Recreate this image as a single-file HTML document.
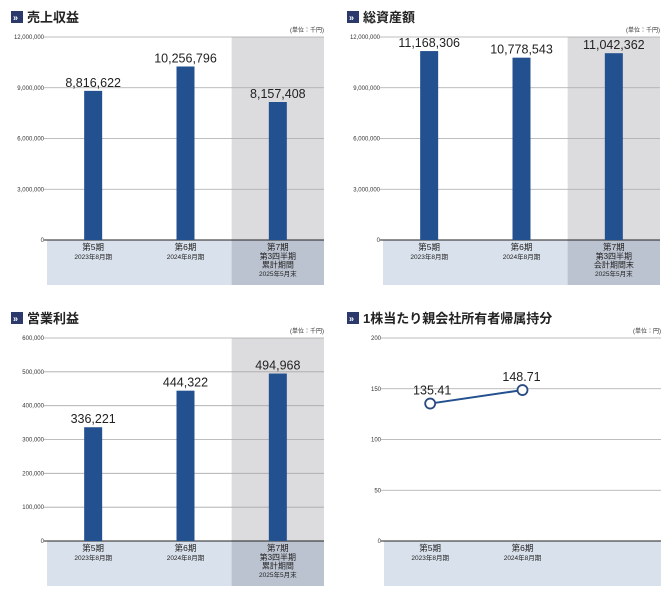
<!DOCTYPE html>
<html><head><meta charset="utf-8">
<style>
html,body{margin:0;padding:0;background:#fff;}
svg{display:block;font-family:"Liberation Sans","Noto Sans CJK JP",sans-serif;}
</style></head>
<body>
<svg id="chart" width="672" height="600" viewBox="0 0 672 600"></svg>
<script>
const salesValues = [8816622, 10256796, 8157408];
const salesLabels = ["8,816,622", "10,256,796", "8,157,408"];
const salesTicks = [0, 3000000, 6000000, 9000000, 12000000];
const salesTickLabels = ["0", "3,000,000", "6,000,000", "9,000,000", "12,000,000"];

const assetsValues = [11168306, 10778543, 11042362];
const assetsLabels = ["11,168,306", "10,778,543", "11,042,362"];
const assetsTicks = [0, 3000000, 6000000, 9000000, 12000000];
const assetsTickLabels = ["0", "3,000,000", "6,000,000", "9,000,000", "12,000,000"];

const opValues = [336221, 444322, 494968];
const opLabels = ["336,221", "444,322", "494,968"];
const opTicks = [0, 100000, 200000, 300000, 400000, 500000, 600000];
const opTickLabels = ["0", "100,000", "200,000", "300,000", "400,000", "500,000", "600,000"];

const epsValues = [135.41, 148.71];
const epsLabels = ["135.41", "148.71"];
const epsTicks = [0, 50, 100, 150, 200];
const epsTickLabels = ["0", "50", "100", "150", "200"];

const catMain = ["第5期", "第6期", "第7期"];
const catSub = ["2023年8月期", "2024年8月期"];
const cat3SalesLines = ["第3四半期", "累計期間", "2025年5月末"];
const cat3AssetLines = ["第3四半期", "会計期間末", "2025年5月末"];

const svg = document.getElementById('chart');
const NS = 'http://www.w3.org/2000/svg';
function mk(tag, attrs, parent, text) {
  const e = document.createElementNS(NS, tag);
  for (const k in attrs) e.setAttribute(k, attrs[k]);
  if (text !== undefined) e.textContent = text;
  (parent || svg).appendChild(e);
  return e;
}

function panel(opt) {
  const g = mk('g', {});
  
  
  const x0 = opt.x0, x1 = opt.x0 + 277, yTop = opt.yTop, yZero = opt.yTop + 203, yBand = yZero + 45;
  const colW = (x1 - x0) / 3;
  const maxV = opt.ticks[opt.ticks.length - 1];
  const yS = v => yZero - (v / maxV) * (yZero - yTop);
  const xC = i => x0 + colW * i + colW / 2;

  // title
  const icon = mk('rect', {x: opt.tx, y: opt.ty - 10, width: 12, height: 12, fill: '#2b3a6b'}, g);
  
  
  mk('text', {x: opt.tx + 2, y: opt.ty - 0.5, fill: '#fff', 'font-size': 9, 'font-weight': 'bold'}, g, '»');
  const tt = mk('text', {x: opt.tx + 16, y: opt.ty + 1, fill: '#222', 'font-size': 13, 'font-weight': 'bold'}, g, opt.title);
  
  
  const ut = mk('text', {x: x1, y: yTop - 5, 'text-anchor': 'end', fill: '#333', 'font-size': 6}, g, opt.unit);
  
  

  // bands
  if (opt.shade) {
    const sh = mk('rect', {x: x0 + colW * 2, y: yTop, width: colW, height: yZero - yTop, fill: '#dcdcdf'}, g);
    
    
  }
  const band = mk('rect', {x: x0, y: yZero, width: x1 - x0, height: yBand - yZero, fill: '#d9e1ec'}, g);
  
  
  if (opt.shade) {
    const b2 = mk('rect', {x: x0 + colW * 2, y: yZero, width: colW, height: yBand - yZero, fill: '#bcc3d0'}, g);
    
    
  }

  // grid + ticks
  opt.ticks.forEach((t, i) => {
    const y = yS(t);
    if (t !== 0) {
      const gl = mk('line', {x1: x0 - 3, x2: x1, y1: y, y2: y, stroke: '#a8a8a8', 'stroke-width': 0.8}, g);
      
      
    }
    const tl = mk('text', {x: x0 - 3, y: y + 2, 'text-anchor': 'end', fill: '#333', 'font-size': 6}, g, opt.tickLabels[i]);
    
    
  });
  const ax = mk('line', {x1: x0 - 3, x2: x1, y1: yZero, y2: yZero, stroke: '#222', 'stroke-width': 1}, g);
  
  

  // categories
  const nCat = opt.values.length === 2 ? 2 : 3;
  for (let i = 0; i < nCat; i++) {
    const cm = mk('text', {x: xC(i), y: yZero + 10, 'text-anchor': 'middle', fill: '#222', 'font-size': 8.5}, g, catMain[i]);
    
    
    const lines = i < 2 ? [catSub[i]] : opt.cat3;
    lines.forEach((s, j) => {
      const isYear = i < 2 || j === 2;
      const cs = mk('text', {x: xC(i), y: yZero + 19 + j * 8.5, 'text-anchor': 'middle', fill: '#222', 'font-size': isYear ? 6.5 : 8}, g, s);
      
      
    });
  }

  if (opt.line) {
    const pts = opt.values.map((v, i) => [xC(i), yS(v)]);
    const pl = mk('polyline', {points: pts.map(p => p.join(',')).join(' '), fill: 'none', stroke: '#23508f', 'stroke-width': 2}, g);
    
    
    pts.forEach((p, i) => {
      const c = mk('circle', {cx: p[0], cy: p[1], r: 5, fill: '#fff', stroke: '#2b4a80', 'stroke-width': 1.8}, g);
      
      
      const vl = mk('text', {x: p[0] + (i === 0 ? 2 : -1), y: p[1] - (i === 0 ? 9 : 9), 'text-anchor': 'middle', fill: '#222', 'font-size': 12.5}, g, opt.labels[i]);
      
      
    });
  } else {
    opt.values.forEach((v, i) => {
      const y = yS(v);
      const b = mk('rect', {x: xC(i) - 9, y: y, width: 18, height: yZero - y, fill: '#23508f'}, g);
      
      
      const vl = mk('text', {x: xC(i), y: y - 4, 'text-anchor': 'middle', fill: '#222', 'font-size': 12.5}, g, opt.labels[i]);
      
      
    });
  }
}

panel({name: 'revenue-chart', x0: 47, yTop: 37, tx: 11, ty: 21, title: '売上収益', unit: '(単位：千円)', values: salesValues, labels: salesLabels, ticks: salesTicks, tickLabels: salesTickLabels, shade: true, cat3: cat3SalesLines});
panel({name: 'total-assets-chart', x0: 383, yTop: 37, tx: 347, ty: 21, title: '総資産額', unit: '(単位：千円)', values: assetsValues, labels: assetsLabels, ticks: assetsTicks, tickLabels: assetsTickLabels, shade: true, cat3: cat3AssetLines});
panel({name: 'operating-profit-chart', x0: 47, yTop: 338, tx: 11, ty: 322, title: '営業利益', unit: '(単位：千円)', values: opValues, labels: opLabels, ticks: opTicks, tickLabels: opTickLabels, shade: true, cat3: cat3SalesLines});
panel({name: 'equity-per-share-chart', x0: 384, yTop: 338, tx: 347, ty: 322, title: '1株当たり親会社所有者帰属持分', unit: '(単位：円)', values: epsValues, labels: epsLabels, ticks: epsTicks, tickLabels: epsTickLabels, shade: false, line: true, cat3: []});
</script>
</body></html>
